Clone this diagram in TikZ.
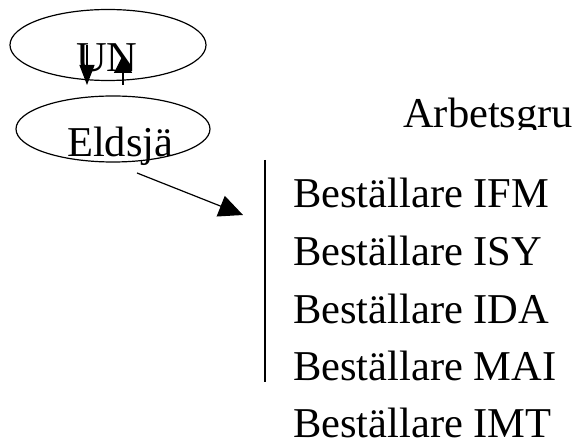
\documentclass[tikz,border=0pt]{standalone}
\usepackage{fontspec}
\setmainfont{Liberation Serif}
\usetikzlibrary{arrows.meta,shapes.geometric,positioning}

\begin{document}
\begin{tikzpicture}
[x=1pt, y=-1pt, font=\fontsize{42.5}{50}\selectfont,
% STYLES
% The group style is used for the two ellipses
group/.style={ellipse, draw, line width=1.2pt, inner sep=0pt},
% The txt style is used to place each text by its baseline
txt/.style={inner sep=0pt, anchor=base west},
% The link style is used for the lines and arrows
link/.style={line width=1.2pt}]

\useasboundingbox (0,0) rectangle (574,446);

% Draw groups
\node [group, minimum width=196pt, minimum height=71pt] (un) at (108,45) {};
\node [group, minimum width=194pt, minimum height=66pt] (eldsja) at (113,129) {};
\node [txt] (un-label) at (76,72) {UN};
\node [txt] (eldsja-label) at (67,157) {Eldsjä};

% Title, cut off by its box
\begin{scope}
\clip (380,95) rectangle (574,130);
\node [txt] (arbetsgrupp) at (403,128) {Arbetsgru};
\end{scope}

%%%%%%%%%%%%%%%
% Members
\node [txt] (ifm) at (293,208) {Beställare IFM};
\node [txt] (isy) at (293,266) {Beställare ISY};
\node [txt] (ida) at (293,324) {Beställare IDA};
\node [txt] (mai) at (293,381) {Beställare MAI};
\node [txt] (imt) at (293,438) {Beställare IMT};
%%%%%%%%%%%%%%%

% Ends of the connectors
\coordinate (down-start) at (87,45);
\coordinate (down-end) at (87,85);
\coordinate (up-start) at (123,85);
\coordinate (up-end) at (123,55);
\coordinate (flow-start) at (137,173);
\coordinate (flow-end) at (243,215);
\coordinate (bar-top) at (265,160);
\coordinate (bar-bottom) at (265,382);

% Draw the links
\draw [link, -{Triangle[length=20pt,width=15pt]}] (down-start) -- (down-end);
\draw [link, -{Triangle[length=18pt,width=18pt]}] (up-start) -- (up-end);
\draw [link, -{Triangle[length=24pt,width=22pt]}] (flow-start) -- (flow-end);
\draw [link] (bar-top) -- (bar-bottom);

\end{tikzpicture}
\end{document}
